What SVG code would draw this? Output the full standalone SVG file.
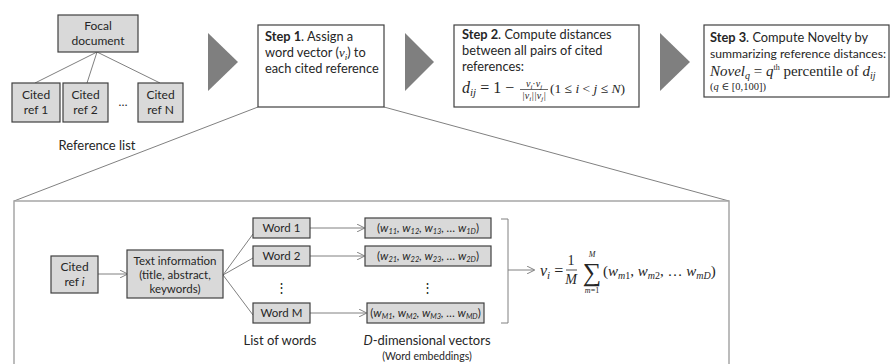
<svg xmlns="http://www.w3.org/2000/svg" width="890" height="364" viewBox="0 0 890 364">
<defs>
<style>
.t{font-family:Lato,"Liberation Sans",sans-serif;fill:#262626;}
.m{font-family:"Liberation Serif","DejaVu Serif",serif;fill:#262626;}
.gbox{fill:#d9d9d9;stroke:#404040;stroke-width:1.2;}
.wbox{fill:#ffffff;stroke:#404040;stroke-width:1.2;}
.ln{stroke:#808080;stroke-width:1;fill:none;}
.tri{fill:#7f7f7f;}
</style>
<marker id="ah" viewBox="0 0 10 10" refX="9" refY="5" markerWidth="8" markerHeight="8" orient="auto" markerUnits="userSpaceOnUse">
<path d="M0,0 L10,5 L0,10" fill="none" stroke="#808080" stroke-width="1.2"/>
</marker>
</defs>
<rect width="890" height="364" fill="#ffffff"/>

<g id="connectors">
<line class="ln" x1="97" y1="52" x2="35" y2="83"/>
<line class="ln" x1="97" y1="52" x2="87" y2="83"/>
<line class="ln" x1="97" y1="52" x2="160" y2="83"/>
<line class="ln" x1="258" y1="107" x2="14" y2="201"/>
<line class="ln" x1="384" y1="107" x2="729" y2="201"/>
<line class="ln" x1="98" y1="274" x2="127" y2="274" marker-end="url(#ah)"/>
<line class="ln" x1="223" y1="275" x2="253" y2="234"/>
<line class="ln" x1="223" y1="275" x2="253" y2="258"/>
<line class="ln" x1="223" y1="275" x2="253" y2="315"/>
<line class="ln" x1="310" y1="228" x2="364" y2="228" marker-end="url(#ah)"/>
<line class="ln" x1="310" y1="256" x2="364" y2="256" marker-end="url(#ah)"/>
<line class="ln" x1="310" y1="313" x2="366" y2="313" marker-end="url(#ah)"/>
<path class="ln" d="M501,219 L508,219 L508,323 L501,323"/>
<line class="ln" x1="508" y1="270" x2="534" y2="270" marker-end="url(#ah)"/>
</g>

<g id="arrows">
<polygon class="tri" points="208,33 238,62 208,91"/>
<polygon class="tri" points="405,33 434,62 405,91"/>
<polygon class="tri" points="660,33 690,62 660,91"/>
</g>

<g id="focal">
<rect class="gbox" x="58" y="15" width="80" height="37"/>
<text class="t" font-size="12" text-anchor="middle" x="98" y="30">Focal</text>
<text class="t" font-size="12" text-anchor="middle" x="98" y="45">document</text>
</g>
<g id="ref1">
<rect class="gbox" x="12" y="83" width="48" height="39"/>
<text class="t" font-size="12" text-anchor="middle" x="36" y="99">Cited</text>
<text class="t" font-size="12" text-anchor="middle" x="36" y="114">ref 1</text>
</g>
<g id="ref2">
<rect class="gbox" x="63" y="83" width="45" height="39"/>
<text class="t" font-size="12" text-anchor="middle" x="85.5" y="99">Cited</text>
<text class="t" font-size="12" text-anchor="middle" x="85.5" y="114">ref 2</text>
</g>
<g id="dots">
<text class="t" font-size="12" text-anchor="middle" x="123" y="106">…</text>
</g>
<g id="refN">
<rect class="gbox" x="138" y="83" width="45" height="39"/>
<text class="t" font-size="12" text-anchor="middle" x="160.5" y="99">Cited</text>
<text class="t" font-size="12" text-anchor="middle" x="160.5" y="114">ref N</text>
</g>
<g id="reflist">
<text class="t" font-size="13" text-anchor="middle" x="97" y="150">Reference list</text>
</g>

<g id="step1">
<rect class="wbox" x="258" y="25" width="126" height="82"/>
<text class="t" font-size="12.8" x="265" y="41"><tspan font-weight="bold">Step 1</tspan>. Assign a</text>
<text class="t" font-size="12.8" x="265" y="57">word vector (<tspan font-family="Liberation Serif, serif" font-style="italic">v</tspan><tspan font-family="Liberation Serif, serif" font-style="italic" font-size="9" dy="3">i</tspan><tspan dy="-3">) to</tspan></text>
<text class="t" font-size="12.8" x="265" y="73">each cited reference</text>
</g>

<g id="step2">
<rect class="wbox" x="454" y="25" width="185" height="82"/>
<text class="t" font-size="12.8" x="462" y="39"><tspan font-weight="bold">Step 2</tspan>. Compute distances</text>
<text class="t" font-size="12.8" x="462" y="55">between all pairs of cited</text>
<text class="t" font-size="12.8" x="462" y="71">references:</text>
<text class="m" font-size="16" font-style="italic" x="462" y="93">d<tspan font-size="11" dy="3">ij</tspan><tspan font-style="normal" dy="-3"> = 1 − </tspan></text>
<text class="m" font-size="10" font-style="italic" x="534" y="87" text-anchor="middle">v<tspan font-size="7" dy="2">i</tspan><tspan dy="-2" font-style="normal">·</tspan>v<tspan font-size="7" dy="2">j</tspan></text>
<line x1="520" y1="89.5" x2="548" y2="89.5" stroke="#262626" stroke-width="0.7"/>
<text class="m" font-size="10" font-style="italic" x="534" y="99" text-anchor="middle">|v<tspan font-size="7" dy="2">i</tspan><tspan dy="-2">||v</tspan><tspan font-size="7" dy="2">j</tspan><tspan dy="-2">|</tspan></text>
<text class="m" font-size="13.5" x="550" y="93">(1 ≤ <tspan font-style="italic">i</tspan> &lt; <tspan font-style="italic">j</tspan> ≤ <tspan font-style="italic">N</tspan>)</text>
</g>

<g id="step3">
<rect class="wbox" x="704" y="25" width="185" height="72"/>
<text class="t" font-size="12.8" x="710" y="42"><tspan font-weight="bold">Step 3</tspan>. Compute Novelty by</text>
<text class="t" font-size="12.2" x="710" y="58" textLength="176" lengthAdjust="spacingAndGlyphs">summarizing reference distances:</text>
<text class="m" font-size="15" x="710" y="76"><tspan font-style="italic">Novel<tspan font-size="10" dy="3">q</tspan></tspan><tspan dy="-3"> = </tspan><tspan font-style="italic">q</tspan><tspan font-size="8" dy="-6">th</tspan><tspan dy="6"> percentile of </tspan><tspan font-style="italic">d<tspan font-size="10" dy="3">ij</tspan></tspan></text>
<text class="m" font-size="10.5" x="710" y="90">(<tspan font-style="italic">q</tspan> ∈ [0,100])</text>
</g>

<g id="panel">
<path d="M14,370 L14,201 L729,201 L729,370" fill="none" stroke="#a6a6a6" stroke-width="1.5"/>
</g>

<g id="citedi">
<rect class="gbox" x="51" y="256" width="47" height="37"/>
<text class="t" font-size="12" text-anchor="middle" x="74.5" y="271">Cited</text>
<text class="t" font-size="12" text-anchor="middle" x="74.5" y="286">ref <tspan font-style="italic">i</tspan></text>
</g>
<g id="textinfo">
<rect class="gbox" x="127" y="250" width="96" height="48"/>
<text class="t" font-size="11.5" text-anchor="middle" x="175" y="265">Text information</text>
<text class="t" font-size="11.5" text-anchor="middle" x="175" y="279">(title, abstract,</text>
<text class="t" font-size="11.5" text-anchor="middle" x="175" y="293">keywords)</text>
</g>
<g id="word1">
<rect class="gbox" x="253" y="218" width="57" height="20"/>
<text class="t" font-size="11.5" text-anchor="middle" x="281.5" y="232">Word 1</text>
</g>
<g id="word2">
<rect class="gbox" x="253" y="246" width="57" height="20"/>
<text class="t" font-size="11.5" text-anchor="middle" x="281.5" y="260">Word 2</text>
</g>
<g id="wdots">
<text class="t" font-size="13" text-anchor="middle" x="281" y="292">⋮</text>
</g>
<g id="wordM">
<rect class="gbox" x="253" y="303" width="57" height="20"/>
<text class="t" font-size="11.5" text-anchor="middle" x="281.5" y="317">Word M</text>
</g>
<g id="vec1">
<rect class="gbox" x="365" y="218" width="126" height="20"/>
<text class="t" font-size="11.5" text-anchor="middle" x="428" y="232">(<tspan font-style="italic">w<tspan font-size="7.5" dy="2">11</tspan><tspan dy="-2">, w</tspan><tspan font-size="7.5" dy="2">12</tspan><tspan dy="-2">, w</tspan><tspan font-size="7.5" dy="2">13</tspan><tspan dy="-2">, … w</tspan><tspan font-size="7.5" dy="2">1D</tspan></tspan><tspan dy="-2">)</tspan></text>
</g>
<g id="vec2">
<rect class="gbox" x="365" y="246" width="126" height="20"/>
<text class="t" font-size="11.5" text-anchor="middle" x="428" y="260">(<tspan font-style="italic">w<tspan font-size="7.5" dy="2">21</tspan><tspan dy="-2">, w</tspan><tspan font-size="7.5" dy="2">22</tspan><tspan dy="-2">, w</tspan><tspan font-size="7.5" dy="2">23</tspan><tspan dy="-2">, … w</tspan><tspan font-size="7.5" dy="2">2D</tspan></tspan><tspan dy="-2">)</tspan></text>
</g>
<g id="vdots">
<text class="t" font-size="13" text-anchor="middle" x="427" y="292">⋮</text>
</g>
<g id="vecM">
<rect class="gbox" x="367" y="303" width="117" height="20"/>
<text class="t" font-size="11.5" text-anchor="middle" x="425.5" y="317">(<tspan font-style="italic">w<tspan font-size="7.5" dy="2">M1</tspan><tspan dy="-2">, w</tspan><tspan font-size="7.5" dy="2">M2</tspan><tspan dy="-2">, w</tspan><tspan font-size="7.5" dy="2">M3</tspan><tspan dy="-2">, … w</tspan><tspan font-size="7.5" dy="2">MD</tspan></tspan><tspan dy="-2">)</tspan></text>
</g>
<g id="labels">
<text class="t" font-size="13" text-anchor="middle" x="280" y="345">List of words</text>
<text class="t" font-size="13" text-anchor="middle" x="427" y="345"><tspan font-style="italic">D</tspan>-dimensional vectors</text>
<text class="t" font-size="10.5" text-anchor="middle" x="427" y="360">(Word embeddings)</text>
</g>
<g id="formula">
<text class="m" font-size="16" font-style="italic" x="540" y="276">v<tspan font-size="11" dy="3">i</tspan><tspan font-style="normal" dy="-3"> = </tspan></text>
<text class="m" font-size="14" x="571" y="265" text-anchor="middle">1</text>
<line x1="566" y1="270" x2="577" y2="270" stroke="#262626" stroke-width="0.8"/>
<text class="m" font-size="14" font-style="italic" x="571" y="284" text-anchor="middle">M</text>
<text class="m" font-size="8" font-style="italic" x="592" y="257" text-anchor="middle">M</text>
<text class="m" font-size="26" x="592" y="281" text-anchor="middle">∑</text>
<text class="m" font-size="8" x="592" y="293" text-anchor="middle"><tspan font-style="italic">m</tspan>=1</text>
<text class="m" font-size="15" x="603" y="276">(<tspan font-style="italic">w</tspan><tspan font-size="10" dy="3"><tspan font-style="italic">m</tspan>1</tspan><tspan dy="-3">, </tspan><tspan font-style="italic">w</tspan><tspan font-size="10" dy="3"><tspan font-style="italic">m</tspan>2</tspan><tspan dy="-3">, … </tspan><tspan font-style="italic">w</tspan><tspan font-size="10" dy="3" font-style="italic">mD</tspan><tspan dy="-3">)</tspan></text>
</g>
</svg>
